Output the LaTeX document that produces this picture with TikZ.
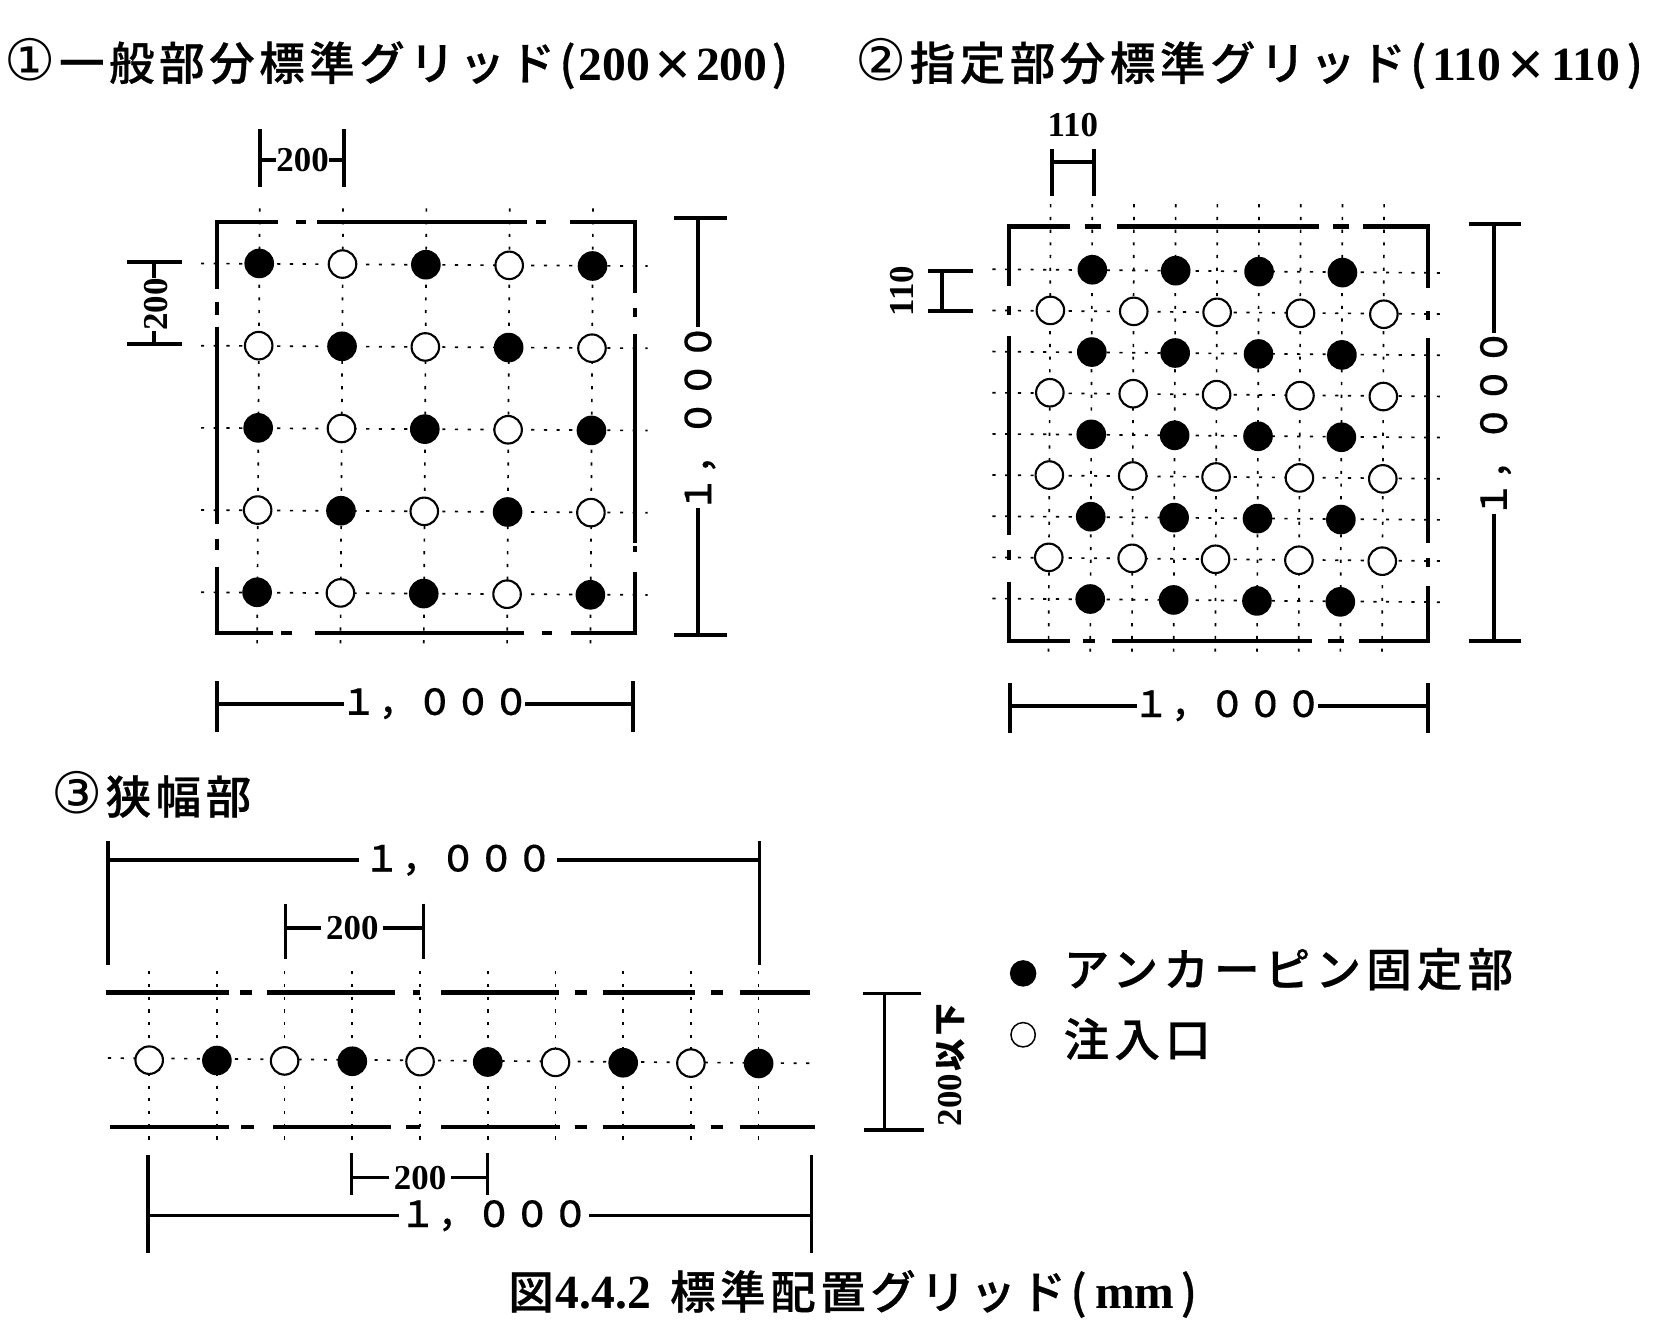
\documentclass[tikz,border=0pt]{standalone}
\usepackage{fontspec}
\setmainfont{Liberation Serif}
\newfontfamily\cjkb[LetterSpace=10,FakeBold=0.6]{Noto Sans CJK JP Medium}
\newfontfamily\cjkl[LetterSpace=11.5,FakeBold=0.6]{Noto Sans CJK JP Medium}
\newfontfamily\cjks[LetterSpace=6,FakeBold=0.25]{Noto Sans CJK JP Medium}
\newfontfamily\cjkv[LetterSpace=12,FakeBold=0.6]{Noto Sans CJK JP Medium}
\newfontfamily\circd{DejaVu Sans}
\newfontfamily\latb{Liberation Serif}
\newcommand{\tnum}[1]{{\latb\bfseries\fontsize{22.5}{22.5}\selectfont #1}}
\newcommand{\tx}{\raisebox{-3pt}{\fontsize{31}{22}\selectfont ×}}
\newcommand{\cnum}[1]{{\circd\fontsize{27}{24}\selectfont #1}\hspace{1.5pt}}
\newcommand{\vtxo}{1.5}
\tikzset{
  outl/.style={line width=2pt},
  dimln/.style={line width=1.9pt},
  gridln/.style={line width=0.8pt,dash pattern=on 1.5pt off 4.5pt},
  pin/.style={circle,fill=black,draw=black,line width=1pt,minimum size=13pt,inner sep=0pt},
  port/.style={circle,fill=white,draw=black,line width=1pt,minimum size=13pt,inner sep=0pt},
  ttl/.style={anchor=west,inner sep=0pt,font=\cjkb\fontsize{21.5}{22}\selectfont},
  tnumsz/.style={inner sep=0pt,font=\latb\bfseries\fontsize{16.5}{16.5}\selectfont},
  kilo/.style={inner sep=-2pt,font=\cjks\fontsize{17}{17}\selectfont},
}
\newcommand{\hdim}[9]{%
  \coordinate (#1a) at (#2,#4); \coordinate (#1b) at (#3,#4);
  \node[#9] (#1t) at (#7,#4) {#8};
  \draw[dimln] (#1a) -- (#1t.west) (#1t.east) -- (#1b);
  \draw[dimln] (#2,#5) -- (#1a) -- (#2,#6);
  \draw[dimln] (#3,#5) -- (#1b) -- (#3,#6);
}
\newcommand{\vdim}[9]{%
  \coordinate (#1a) at (#4,#2); \coordinate (#1b) at (#4,#3);
  \node[#9,rotate=90] (#1t) at ({#4+\vtxo},#7) {#8};
  \draw[dimln] (#1a) -- (#1a |- #1t.east) (#1a |- #1t.west) -- (#1b);
  \draw[dimln] (#5,#2) -- (#1a) -- (#6,#2);
  \draw[dimln] (#5,#3) -- (#1b) -- (#6,#3);
}
\begin{document}
\begin{tikzpicture}[x=0.5pt,y=-0.5pt]
\useasboundingbox[fill=white] (0,0) rectangle (1568,1256.1);

% titles
\node[ttl] (t1) at (4,60) {\cnum{①}一般部分標準グリッド(\hspace{1.5pt}\tnum{200\hspace{2pt}\tx\hspace{2pt}200}\hspace{2pt})};
\node[ttl] (t2) at (808,60) {\cnum{②}指定部分標準グリッド(\hspace{3pt}\tnum{110\hspace{3pt}\tx\hspace{3pt}110}\hspace{3pt})};
\node[ttl] (t3) at (48,751) {\cnum{③}狭幅部};
\node[ttl] (cap) at (480,1223) {図\hspace{1pt}\tnum{4.4.2}\hspace{2pt} 標準配置グリッド(\hspace{4pt}\tnum{mm}\hspace{3pt})};

% ---------- grid 1
\foreach \i in {0,...,4}{
  \draw[gridln] (245+78.75*\i+0.5,197) -- (243+78.75*\i,612);
  \draw[gridln] (190,249+77.7*\i) -- (612,251.5+77.7*\i);
}
\draw[outl] (263,210) -| (205,273) (280,210) -- (289,210) (300,210) -- (498,210) (507,210) -- (516,210) (539,210) -| (600,277);
\draw[outl] (205,285) -- (205,298) (205,309) -- (205,495) (205,509) -- (205,520) (205,536) |- (258,598) (266,598) -- (276,598) (298,598) -- (495,598) (512,598) -- (522,598) (540,598) -| (600,541);
\draw[outl] (600,291) -- (600,300) (600,316) -- (600,513) (600,516) -- (600,522);
\foreach \i in {0,...,4}\foreach \j in {0,...,4}{
  \pgfmathparse{int(mod(\i+\j,2))}
  \ifnum\pgfmathresult=0 \def\kind{pin}\else\def\kind{port}\fi
  \node[\kind] (ga\i\j) at (245+78.75*\i-0.5*\j,249+77.7*\j+0.6*\i) {};
}
\hdim{d1}{246}{325}{151}{122}{177}{286}{200}{tnumsz}
\vdim{d2}{248}{325}{146}{120}{172}{288}{200}{tnumsz}
\vdim{d3}{206}{600}{660}{637}{687}{395}{１，０００}{kilo}
\hdim{d4}{205}{598}{665}{644}{692}{411}{１，０００}{kilo}

% ---------- grid 2
\foreach \i in {0,...,8}{
  \draw[gridln] (993+39.4*\i,193) -- (991+39.4*\i,622);
  \draw[gridln] (938,254.5+38.9*\i) -- (1364,258+38.9*\i);
}
\draw[outl] (1011,214) -| (954,270) (1025,214) -- (1041,214) (1056,214) -- (1247,214) (1260,214) -- (1275,214) (1288,214) -| (1350,272);
\draw[outl] (954,289) -- (954,298) (954,318) -- (954,506) (954,520) -- (954,529) (954,550) |- (1011,606) (1024,606) -- (1035,606) (1051,606) -- (1240,606) (1255,606) -- (1270,606) (1284,606) -| (1350,554);
\draw[outl] (1350,294) -- (1350,302) (1350,319) -- (1350,513) (1350,527) -- (1350,536);
\foreach \i in {0,...,8}\foreach \j in {0,...,8}{
  \pgfmathparse{int(mod(\i+\j,2))}
  \ifnum\pgfmathresult=1
    \pgfmathparse{int(mod(\j,2))}
    \ifnum\pgfmathresult=0 \def\kind{pin}\else\def\kind{port}\fi
    \node[\kind] (gb\i\j) at (993+39.4*\i-0.25*\j,254.5+38.9*\j+0.45*\i) {};
  \fi
}
\node[tnumsz] (d5t) at (1014,118) {110};
\coordinate (d5a) at (994,153); \coordinate (d5b) at (1034,153);
\draw[dimln] (994,141) -- (994,185) (1034,141) -- (1034,185) (d5a) -- (d5b);
\node[tnumsz,rotate=90] (d6t) at (853,275) {110};
\coordinate (d6a) at (890,256); \coordinate (d6b) at (890,294);
\draw[dimln] (877,256) -- (920,256) (877,294) -- (920,294) (d6a) -- (d6b);
\vdim{d7}{212}{606}{1412}{1388}{1438}{400}{１，０００}{kilo}
\hdim{d8}{955}{1350}{667}{646}{693}{1160}{１，０００}{kilo}

% ---------- strip 3
\foreach \i in {0,...,9}{
  \draw[gridln] (141+64*\i,918) -- (141+64*\i,1080);
}
\draw[gridln] (102,1000) -- (768,1005);
\draw[outl] (100,938) -- (216,938) (227,938) -- (238,938) (252,938) -- (373,938) (390,938) -- (397,938) (417,938) -- (528,938) (543,938) -- (555,938) (570,938) -- (657,938) (672,938) -- (683,938) (699,938) -- (766,938);
\draw[outl] (104,1065) -- (216,1065) (228,1065) -- (240,1065) (258,1065) -- (370,1065) (384,1065) -- (397,1065) (417,1065) -- (529,1065) (543,1065) -- (555,1065) (570,1065) -- (657,1065) (672,1065) -- (683,1065) (699,1065) -- (770,1065);
\foreach \i in {0,...,9}{
  \pgfmathparse{int(mod(\i,2))}
  \ifnum\pgfmathresult=0 \def\kind{port}\else\def\kind{pin}\fi
  \node[\kind] (gc\i) at (141+64*\i,1002+0.35*\i) {};
}
\begin{scope}[dimln/.style={line width=1.6pt}]
\hdim{d9}{102}{718}{813}{795}{912}{433}{１，０００}{kilo,inner sep=2pt}
\hdim{d10}{270}{400}{877}{854}{906}{333}{200}{tnumsz,inner sep=2pt}
\hdim{d11}{332}{461}{1113}{1090}{1129}{397}{200}{tnumsz,inner sep=2pt}
\hdim{d12}{140}{767}{1149}{1092}{1184}{467}{１，０００}{kilo,inner sep=0pt}
\coordinate (d13a) at (836,939); \coordinate (d13b) at (836,1068);
\draw[dimln] (816,939) -- (870,939) (817,1068) -- (873,1068) (d13a) -- (d13b);
\end{scope}
\node[inner sep=0pt,rotate=90,font=\latb\bfseries\fontsize{16.5}{16.5}\selectfont] (d13l) at (898,1006.5) {200\hspace{1.5pt}{\cjkv\fontsize{15}{15}\selectfont 以下}};

% ---------- legend
\node[pin,minimum size=11.5pt] (lg1) at (967,920) {};
\node[port,minimum size=11.5pt,line width=0.7pt] (lg2) at (967,978) {};
\node[anchor=west,inner sep=0pt,font=\cjkl\fontsize{21.5}{22}\selectfont] (lt1) at (1005,916) {アンカーピン固定部};
\node[anchor=west,inner sep=0pt,font=\cjkl\fontsize{21.5}{22}\selectfont] (lt2) at (1005,982) {注入口};
\end{tikzpicture}
\end{document}
